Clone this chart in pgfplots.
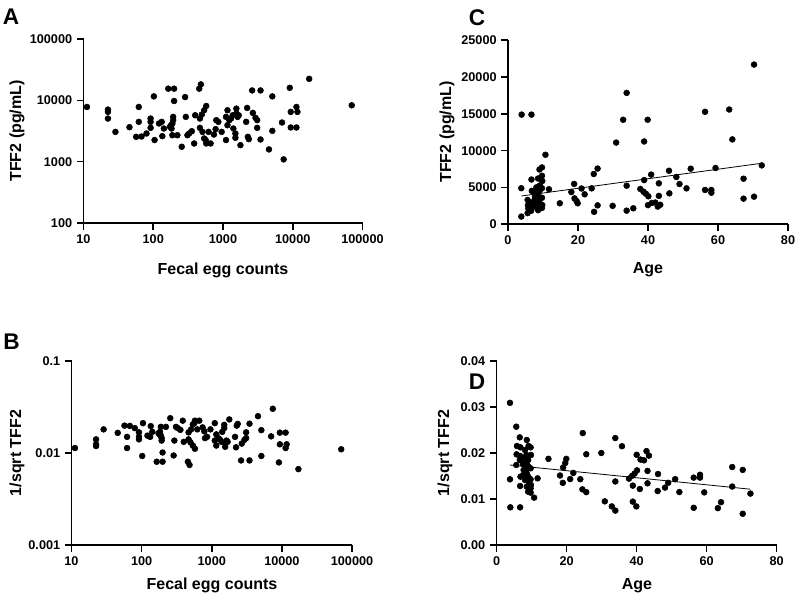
\documentclass[border=0pt]{standalone}
\usepackage{fontspec}
\setmainfont{Liberation Sans}
\usepackage{pgfplots}
\usepackage{pgfplotstable}
\pgfplotsset{compat=1.18}

% fecal egg counts, TFF2 (pg/mL), 1/sqrt TFF2
\pgfplotstableread{
egg tff isq
11.2 7800 0.01132
22.4 7070 0.01190
22.4 6480 0.01243
22.4 5050 0.01407
28.7 3060 0.01807
45.6 3650 0.01656
56.9 2540 0.01984
62 7800 0.01132
62 4460 0.01497
67.9 2570 0.01970
80 2880 0.01864
91.6 5050 0.01407
91.6 4460 0.01497
91.6 3560 0.01677
102 11600 0.00928
104.5 2250 0.02111
121 4190 0.01545
132 4460 0.01497
135 2610 0.01959
142 3470 0.01697
164 15500 0.00804
199 15500 0.00804
199 9750 0.01013
174 3700 0.01644
180 3930 0.01594
183 3470 0.01697
188 4190 0.01545
193 5370 0.01365
193 4750 0.01452
188 2700 0.01923
222 2700 0.01923
256 1750 0.02390
286 11300 0.00940
293 5370 0.01365
309 2700 0.01923
327 2880 0.01864
357 3140 0.01784
386 1980 0.02246
399 5710 0.01323
456 15500 0.00804
482 18200 0.00742
467 5050 0.01407
497 5860 0.01306
537 6890 0.01205
575 8090 0.01112
467 3560 0.01677
508 3060 0.01807
537 2390 0.02046
565 2250 0.02111
575 1980 0.02246
664 1980 0.02246
621 3060 0.01807
741 2770 0.01899
784 3390 0.01718
801 4750 0.01452
857 4460 0.01497
957 3060 0.01807
1104 2250 0.02111
1104 5370 0.01365
1160 6890 0.01205
1160 3930 0.01594
1233 4750 0.01452
1303 5050 0.01407
1378 5710 0.01323
1409 3470 0.01697
1506 2880 0.01864
1506 2450 0.02021
1555 7330 0.01168
1555 6080 0.01282
1620 5370 0.01365
1681 5710 0.01323
1778 1860 0.02317
2147 4460 0.01497
2219 7520 0.01153
2270 2540 0.01984
2344 2330 0.02070
2618 14500 0.00830
2680 6240 0.01266
2924 5180 0.01390
3090 4750 0.01452
3090 3560 0.01677
3452 14500 0.00830
3452 2300 0.02084
4560 1585 0.02512
5093 11600 0.00928
5093 3180 0.01772
7016 4350 0.01517
7413 1090 0.03027
9057 16000 0.00790
9354 6480 0.01243
9354 3610 0.01665
11300 7800 0.01132
11680 6480 0.01243
11300 3610 0.01665
17200 22400 0.00668
70100 8300 0.01098
}\eggtab

% age, TFF2 (pg/mL), 1/sqrt TFF2
\pgfplotstableread{
age tff isq
3.8 1047 0.0309
3.8 4900 0.01428
3.9 14900 0.00819
5.6 1512 0.02572
5.8 2160 0.02152
5.7 2574 0.01971
5.6 3307 0.01739
6.6 1826 0.0234
6.8 2218 0.02123
6.7 2671 0.01935
6.6 2928 0.01848
6.8 4530 0.01486
6.7 6080 0.01283
6.7 14900 0.00819
7.6 2817 0.01884
7.5 3225 0.01761
7.7 3763 0.0163
7.6 4317 0.01522
8.1 2345 0.02065
8.1 5008 0.01413
8.6 1919 0.02283
8.5 2611 0.01957
8.6 3174 0.01775
8.7 3599 0.01667
8.6 4120 0.01558
8.6 6220 0.01268
9.1 2160 0.02152
9.0 2928 0.01848
9.1 3448 0.01703
9.0 4530 0.01486
9.1 5274 0.01377
9.0 7440 0.01159
9.7 2218 0.02123
9.8 2611 0.01957
9.7 3599 0.01667
9.7 4900 0.01428
9.8 5880 0.01304
9.7 6590 0.01232
9.7 7720 0.01138
10.7 9440 0.01029
11.7 4760 0.01449
14.8 2850 0.01873
18.1 4380 0.01511
18.9 5480 0.01351
19.0 3520 0.01686
19.6 3150 0.01782
19.9 2850 0.01873
21.0 4860 0.01434
21.9 4070 0.01567
23.9 4880 0.01431
24.5 6830 0.01210
24.6 1690 0.02433
25.6 7570 0.01149
25.6 2570 0.01973
29.9 2500 0.02000
30.9 11100 0.00949
32.9 14200 0.00839
33.9 17850 0.00748
33.9 5240 0.01381
33.9 1850 0.02325
35.8 2170 0.02147
37.8 4800 0.01443
38.7 4420 0.01504
38.9 11250 0.00943
38.9 6000 0.01291
39.4 4150 0.01552
39.9 14200 0.00839
40.1 3800 0.01622
40.0 2600 0.01961
40.9 6750 0.01217
41.1 2900 0.01857
42.1 2950 0.01841
42.8 2400 0.02041
43.5 2650 0.01943
43.1 5560 0.01341
43.1 3860 0.01610
46.0 7270 0.01173
46.1 4200 0.01543
48.1 6420 0.01248
49.0 5470 0.01352
51.0 4880 0.01431
52.2 7550 0.01151
56.3 15280 0.00809
56.3 4660 0.01465
58.1 4660 0.01465
58.1 4290 0.01527
59.3 7640 0.01144
63.2 15590 0.00801
64.1 11530 0.00931
67.3 6190 0.01271
67.3 3480 0.01695
70.3 21700 0.00679
70.3 3750 0.01633
72.5 8000 0.01118
}\agetab

\pgfplotsset{
  gp/.style={
    scale only axis, anchor=south west,
    axis x line*=bottom, axis y line*=left,
    xtick pos=left, ytick pos=left,
    axis line style={line width=1.2pt, black},
    tick style={line width=1.2pt, black},
    tick align=outside, major tick length=5pt,
    xminorticks=false, yminorticks=false,
    scaled x ticks=false, scaled y ticks=false,
    tick label style={font=\bfseries\fontsize{9.5}{10}\selectfont},
    /pgf/number format/assume math mode=true,
    clip=false,
  },
  dots/.style={only marks, mark=*, mark size=2.2pt, black, mark options={fill=black}},
}

\begin{document}
\begin{tikzpicture}
\useasboundingbox (0,0) rectangle (600pt,-449.25pt);

% A
\begin{axis}[gp, at={(62.625pt,-167.25pt)}, width=209.25pt, height=138pt,
  xmode=log, ymode=log, xmin=10, xmax=100000, ymin=100, ymax=100000,
  xtick={10,100,1000,10000,100000}, xticklabels={10,100,1000,10000,100000},
  ytick={100,1000,10000,100000}, yticklabels={100,1000,10000,100000}]
\addplot[dots] table[x=egg, y=tff] {\eggtab};
\end{axis}

% B
\begin{axis}[gp, at={(53.625pt,-408.75pt)}, width=210.4pt, height=138pt,
  xmode=log, ymode=log, xmin=10, xmax=100000, ymin=0.001, ymax=0.1,
  xtick={10,100,1000,10000,100000}, xticklabels={10,100,1000,10000,100000},
  ytick={0.001,0.01,0.1}, yticklabels={0.001,0.01,0.1}]
\addplot[dots] table[x=egg, y=isq] {\eggtab};
\end{axis}

% C
\begin{axis}[gp, at={(381pt,-168.2pt)}, width=210pt, height=138pt,
  xmin=0, xmax=80, ymin=0, ymax=25000,
  xtick={0,20,40,60,80}, xticklabels={0,20,40,60,80},
  ytick={0,5000,10000,15000,20000,25000},
  yticklabels={0,5000,10000,15000,20000,25000}]
\addplot[dots] table[x=age, y=tff] {\agetab};
\addplot[black, line width=0.6pt] coordinates {(3.8,3840) (72.5,8290)};
\end{axis}

% D
\begin{axis}[gp, at={(372.5pt,-408.75pt)}, width=210pt, height=138pt,
  xmin=0, xmax=80, ymin=0, ymax=0.04,
  xtick={0,20,40,60,80}, xticklabels={0,20,40,60,80},
  ytick={0,0.01,0.02,0.03,0.04},
  yticklabels={0.00,0.01,0.02,0.03,0.04}]
\addplot[dots] table[x=age, y=isq] {\agetab};
\addplot[black, line width=0.6pt] coordinates {(3.8,0.01739) (72.5,0.01213)};
\end{axis}

\begin{scope}[x=0.75pt, y=-0.75pt, font=\bfseries\fontsize{12}{13}\selectfont]
\node[font=\bfseries\fontsize{17}{17}\selectfont] at (11,17) {A};
\node[font=\bfseries\fontsize{17}{17}\selectfont] at (11.5,342) {B};
\node[font=\bfseries\fontsize{17}{17}\selectfont] at (477,18) {C};
\node[font=\bfseries\fontsize{17}{17}\selectfont] at (477,382) {D};
\node[rotate=90] at (17,131) {TFF2 (pg/mL)};
\node[rotate=90] at (17,453) {1/sqrt TFF2};
\node[rotate=90] at (447,132) {TFF2 (pg/mL)};
\node[rotate=90] at (445,453) {1/sqrt TFF2};
\node at (223,270) {Fecal egg counts};
\node at (212,585) {Fecal egg counts};
\node at (648,270) {Age};
\node at (637,586) {Age};
\end{scope}
\end{tikzpicture}
\end{document}
